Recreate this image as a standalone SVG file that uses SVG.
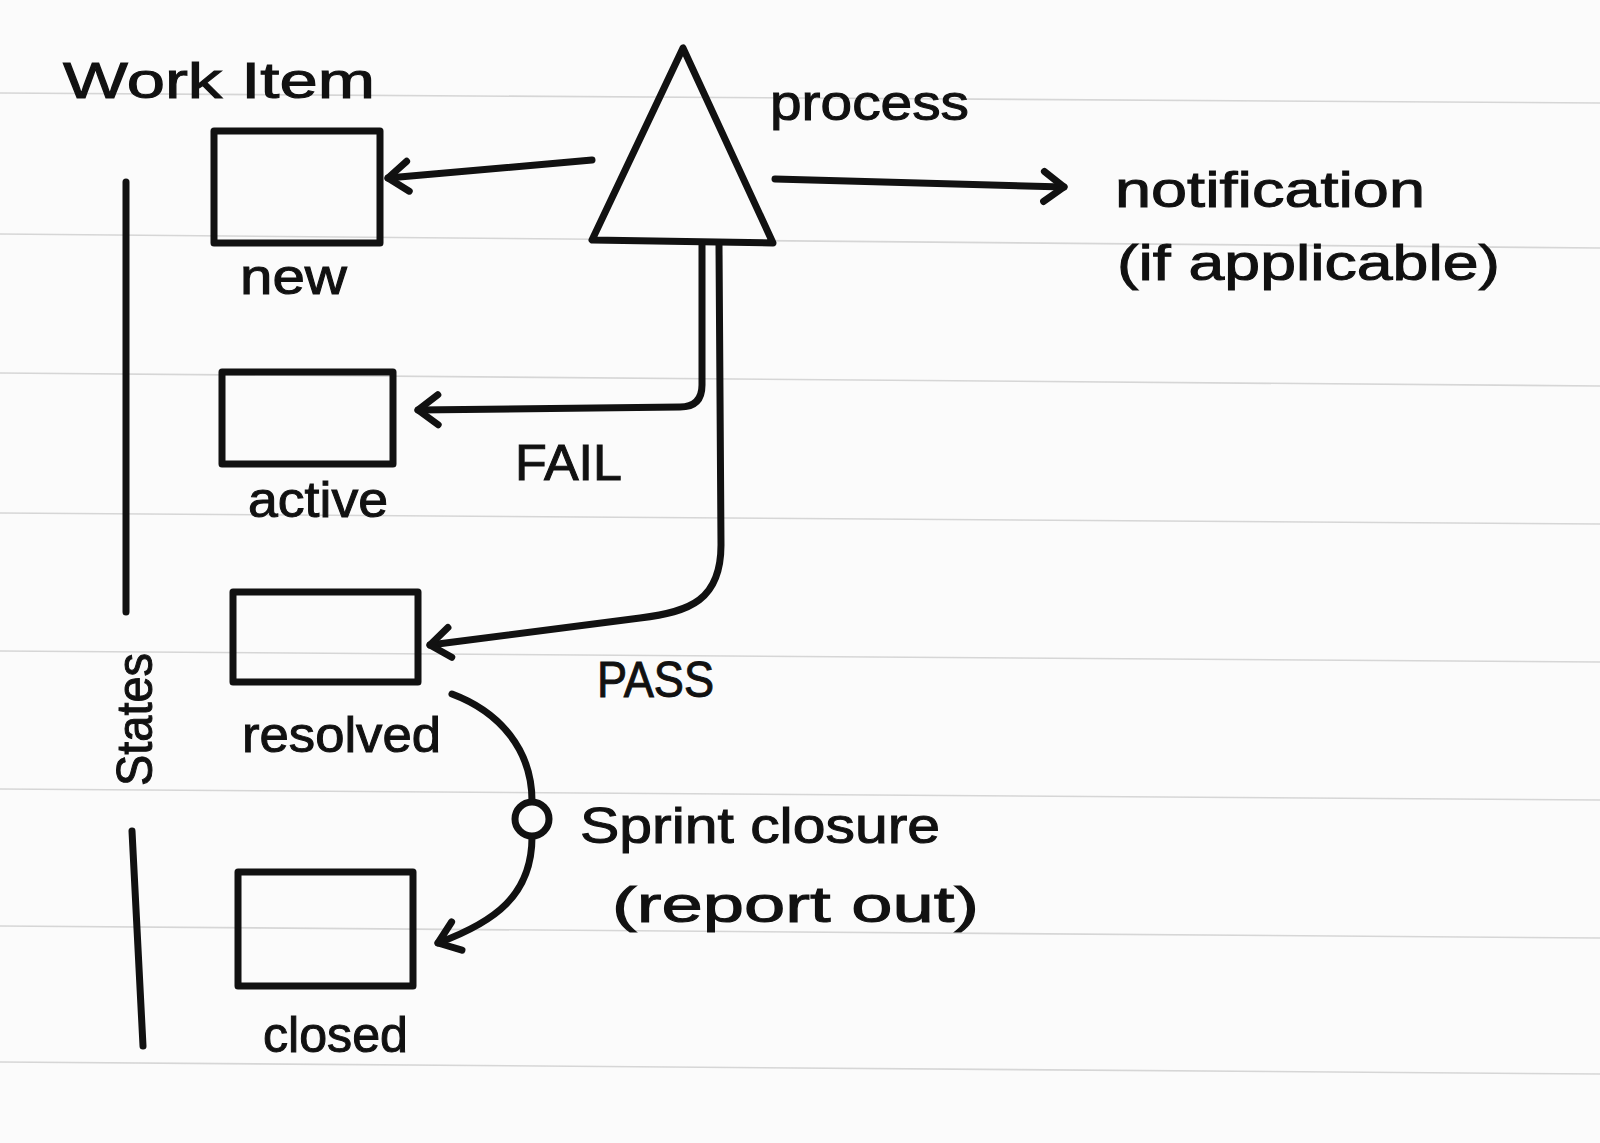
<svg xmlns="http://www.w3.org/2000/svg" width="1600" height="1143" viewBox="0 0 1600 1143">
  <defs>
    <style>
      .ink { fill: none; stroke: #111; stroke-width: 7; stroke-linecap: round; stroke-linejoin: round; }
      .box { fill: none; stroke: #111; stroke-width: 7; stroke-linejoin: round; }
      .rule { stroke: #d6d6d6; stroke-width: 1.6; }
      .lbl { font-family: "Liberation Sans", "DejaVu Sans", sans-serif; fill: #111; font-size: 50px; stroke: #111; stroke-width: 1; }
    </style>
    <marker id="arr" markerUnits="userSpaceOnUse" markerWidth="40" markerHeight="40" viewBox="-30 -20 40 40" refX="0" refY="0" orient="auto">
      <path d="M -20 -15 L 0 0 L -20 15" fill="none" stroke="#111" stroke-width="7" stroke-linecap="round" stroke-linejoin="round"/>
    </marker>
  </defs>

  <rect width="1600" height="1143" fill="#fbfbfb"/>

  <g id="paper-rules">
    <line class="rule" x1="0" y1="93" x2="1600" y2="103"/>
    <line class="rule" x1="0" y1="234" x2="1600" y2="248"/>
    <line class="rule" x1="0" y1="373" x2="1600" y2="386"/>
    <line class="rule" x1="0" y1="513" x2="1600" y2="524"/>
    <line class="rule" x1="0" y1="651" x2="1600" y2="662"/>
    <line class="rule" x1="0" y1="789" x2="1600" y2="800"/>
    <line class="rule" x1="0" y1="926" x2="1600" y2="938"/>
    <line class="rule" x1="0" y1="1062" x2="1600" y2="1074"/>
  </g>

  <g id="title">
    <text class="lbl" x="63" y="98" font-size="48" textLength="312" lengthAdjust="spacingAndGlyphs">Work Item</text>
  </g>

  <g id="states-bracket">
    <line class="ink" x1="126" y1="182" x2="126" y2="612" stroke-width="8"/>
    <line class="ink" x1="132" y1="831" x2="143" y2="1046" stroke-width="8"/>
    <text class="lbl" transform="translate(152 786) rotate(-90)" font-size="42" textLength="133" lengthAdjust="spacingAndGlyphs">States</text>
  </g>

  <g id="process">
    <polygon class="box" points="683,48 592,240 773,243" stroke-width="8"/>
    <text class="lbl" x="770" y="120" font-size="52" textLength="199" lengthAdjust="spacingAndGlyphs">process</text>
  </g>

  <g id="notification">
    <text class="lbl" x="1115" y="207" font-size="52" textLength="310" lengthAdjust="spacingAndGlyphs">notification</text>
    <text class="lbl" x="1117" y="280" font-size="52" textLength="383" lengthAdjust="spacingAndGlyphs">(if applicable)</text>
  </g>

  <g id="state-new">
    <rect class="box" x="214" y="131" width="166" height="112"/>
    <text class="lbl" x="240" y="294" textLength="107" lengthAdjust="spacingAndGlyphs">new</text>
  </g>

  <g id="state-active">
    <rect class="box" x="222" y="372" width="171" height="92"/>
    <text class="lbl" x="248" y="517" textLength="140" lengthAdjust="spacingAndGlyphs">active</text>
  </g>

  <g id="state-resolved">
    <rect class="box" x="233" y="592" width="185" height="90"/>
    <text class="lbl" x="242" y="752" textLength="199" lengthAdjust="spacingAndGlyphs">resolved</text>
  </g>

  <g id="state-closed">
    <rect class="box" x="238" y="872" width="175" height="114"/>
    <text class="lbl" x="263" y="1052" textLength="145" lengthAdjust="spacingAndGlyphs">closed</text>
  </g>

  <g id="connectors">
    <path class="ink" d="M 592 160 L 388 178" marker-end="url(#arr)"/>
    <path class="ink" d="M 775 179 L 1064 187" marker-end="url(#arr)"/>
    <path class="ink" d="M 702 245 L 702 385 Q 702 407 680 407 L 418 410" marker-end="url(#arr)"/>
    <path class="ink" d="M 719 245 L 721 545 C 721 600 690 612 640 618 L 430 645" marker-end="url(#arr)"/>
    <path class="ink" d="M 452 694 C 500 712 532 750 532 801"/>
    <circle class="ink" cx="532" cy="819" r="17"/>
    <path class="ink" d="M 532 837 C 532 895 495 922 438 943" marker-end="url(#arr)"/>
    <text class="lbl" x="515" y="480" font-size="44" textLength="107" lengthAdjust="spacingAndGlyphs">FAIL</text>
    <text class="lbl" x="597" y="697" font-size="50" textLength="117" lengthAdjust="spacingAndGlyphs">PASS</text>
    <text class="lbl" x="580" y="843" textLength="360" lengthAdjust="spacingAndGlyphs">Sprint closure</text>
    <text class="lbl" x="612" y="922" textLength="367" lengthAdjust="spacingAndGlyphs">(report out)</text>
  </g>
</svg>
